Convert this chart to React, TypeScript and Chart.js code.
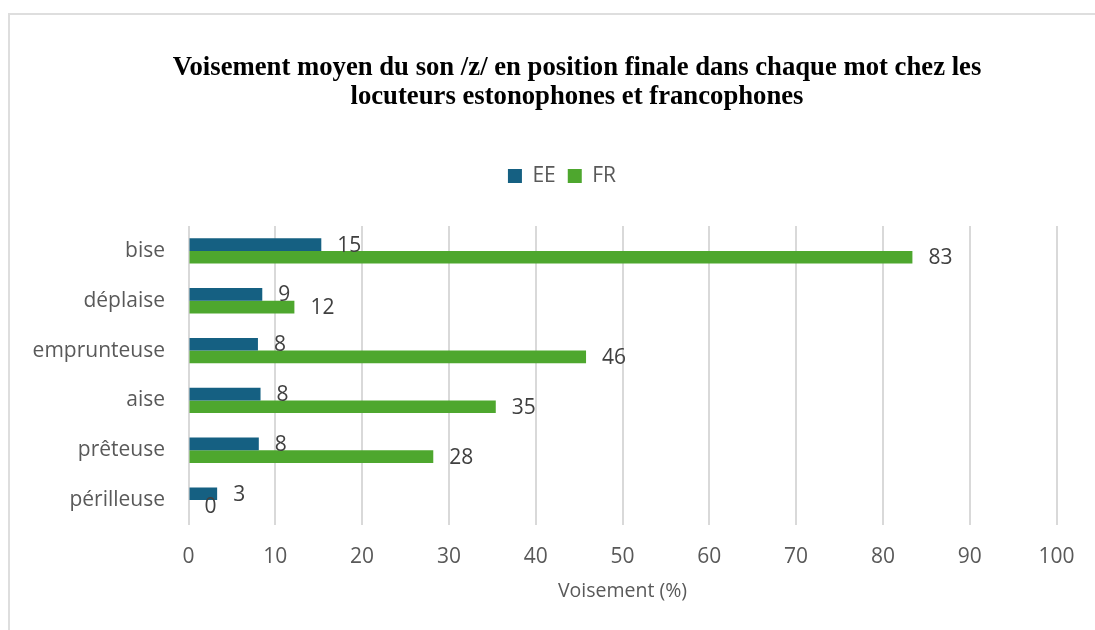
import React, { useEffect, useRef } from "react";
import { Chart, registerables } from "chart.js";

Chart.register(...registerables);

const categories = ["bise", "déplaise", "emprunteuse", "aise", "prêteuse", "périlleuse"];
const seriesEE = [15.3, 8.5, 8.0, 8.3, 8.1, 3.3];
const seriesFR = [83.4, 12.2, 45.8, 35.4, 28.2, 0];
const seriesNames = ["EE", "FR"];
const titleLines = [
  "Voisement moyen du son /z/ en position finale dans chaque mot chez les",
  "locuteurs estonophones et francophones",
];
const axisTitle = "Voisement (%)";

const SANS = "'Open Sans', 'Liberation Sans', sans-serif";
const SERIF = "'Liberation Serif', 'Times New Roman', serif";

const tweakPlugin = {
  id: "tweak",
  beforeLayout(chart: any) {
    const legend = chart.legend;
    if (legend && !legend.__patched) {
      const orig = legend.fit;
      legend.fit = function () {
        orig.call(this);
        this.height = 72.5;
      };
      legend.__patched = true;
    }
  },
  afterLayout(chart: any) {
    if (chart.titleBlock) {
      chart.titleBlock.left = 8;
      chart.titleBlock.right = 1146;
    }
    if (chart.legend) {
      chart.legend.left = 0;
      chart.legend.right = 1124;
    }
  },
};

const labelPlugin = {
  id: "barLabels",
  afterDatasetsDraw(chart: any) {
    const ctx = chart.ctx;
    ctx.save();
    ctx.font = `21px ${SANS}`;
    ctx.fillStyle = "#404040";
    ctx.textAlign = "left";
    ctx.textBaseline = "middle";
    chart.data.datasets.forEach((ds: any, i: number) => {
      const meta = chart.getDatasetMeta(i);
      meta.data.forEach((el: any, j: number) => {
        const v = ds.data[j];
        ctx.fillText(String(Math.round(v)), el.x + 16, el.y + 1);
      });
    });
    ctx.restore();
  },
};

export default function App() {
  const ref = useRef<HTMLCanvasElement | null>(null);
  useEffect(() => {
    if (!ref.current) return;
    const chart = new Chart(ref.current, {
      type: "bar",
      data: {
        labels: categories,
        datasets: [
          { label: seriesNames[0], data: seriesEE, backgroundColor: "#156082", borderWidth: 0 },
          { label: seriesNames[1], data: seriesFR, backgroundColor: "#4EA72E", borderWidth: 0 },
        ],
      },
      options: {
        indexAxis: "y",
        animation: false,
        responsive: false,
        maintainAspectRatio: false,
        layout: { padding: { left: 0, right: 38.5, top: 0, bottom: 0 } },
        datasets: { bar: { categoryPercentage: 0.51, barPercentage: 1 } },
        plugins: {
          title: {
            display: true,
            text: titleLines,
            color: "#000000",
            font: { family: SERIF, size: 26.7, weight: "bold", lineHeight: 29 / 26.7 },
            padding: { top: 54, bottom: 41.5 },
          },
          legend: {
            display: true,
            position: "top",
            labels: {
              boxWidth: 14,
              boxHeight: 14,
              padding: 12,
              color: "#595959",
              font: { family: SANS, size: 21 },
            },
          },
          tooltip: { enabled: false },
        },
        scales: {
          x: {
            type: "linear",
            min: 0,
            max: 100,
            ticks: { stepSize: 10, color: "#595959", font: { family: SANS, size: 21 }, padding: 19 },
            grid: { display: true, color: "#d9d9d9", lineWidth: 2, drawTicks: false },
            border: { display: false },
            title: {
              display: true,
              text: axisTitle,
              color: "#595959",
              font: { family: SANS, size: 19.5 },
              padding: { top: 0, bottom: 27.3 },
            },
            afterFit: (s: any) => {
              s.height = 105;
            },
          },
          y: {
            type: "category",
            ticks: { color: "#595959", font: { family: SANS, size: 21 }, padding: 23.5 },
            grid: { display: false, drawTicks: false },
            border: { display: false },
            afterFit: (s: any) => {
              s.width = 188.5;
            },
          },
        },
      },
      plugins: [tweakPlugin, labelPlugin],
    } as any);
    return () => chart.destroy();
  }, []);

  return (
    <div
      style={{
        position: "fixed",
        left: 0,
        top: 0,
        width: 1095,
        height: 630,
        overflow: "hidden",
        background: "#ffffff",
      }}
    >
      <div
        style={{
          position: "absolute",
          left: 8,
          top: 13,
          width: 1300,
          height: 800,
          borderLeft: "2px solid #dedede",
          borderTop: "2px solid #dedede",
        }}
      />
      <canvas ref={ref} width={1095} height={630} style={{ position: "absolute", left: 0, top: 0 }} />
    </div>
  );
}
